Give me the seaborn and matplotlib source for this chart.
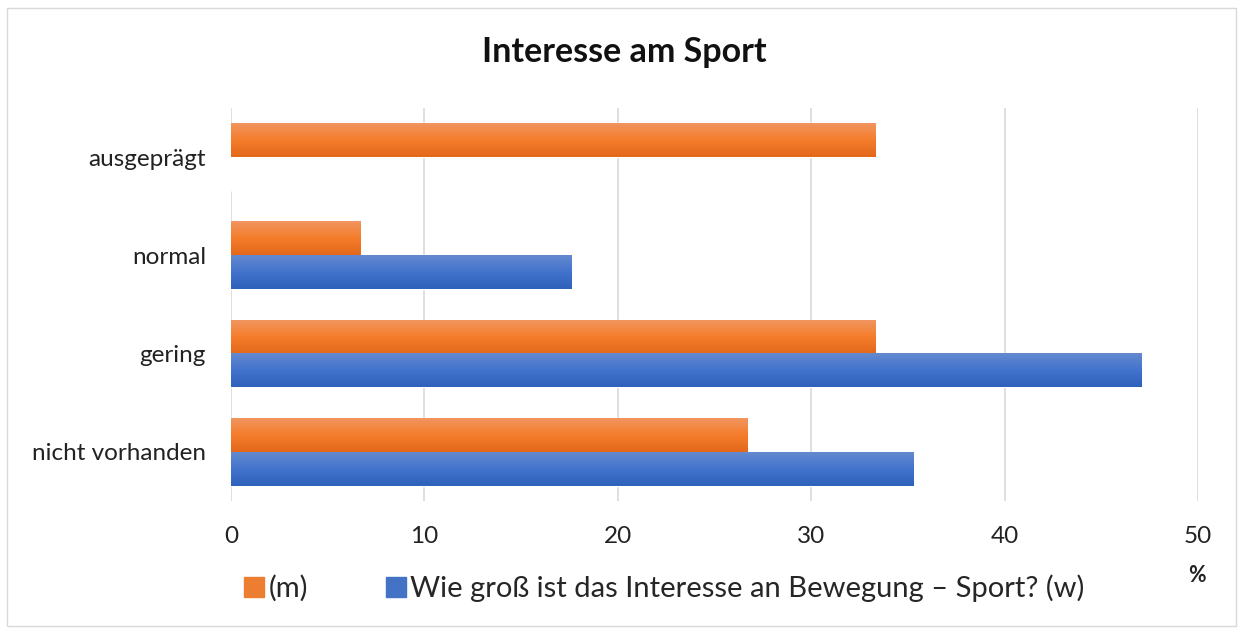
import numpy as np
import pandas as pd
import matplotlib
matplotlib.use("Agg")
import matplotlib.pyplot as plt
from matplotlib.colors import LinearSegmentedColormap
from matplotlib.lines import Line2D
from matplotlib.patches import Rectangle
import seaborn as sns

# data (percent)
categories = ["ausgeprägt", "normal", "gering", "nicht vorhanden"]
series_names = ["(m)", "Wie groß ist das Interesse an Bewegung – Sport? (w)"]
values_m = [33.3, 6.7, 33.3, 26.7]
values_w = [0.0, 17.6, 47.1, 35.3]
x_ticks = [0, 10, 20, 30, 40, 50]

df = pd.DataFrame({
    "Interesse": categories * 2,
    "Serie": [series_names[0]] * 4 + [series_names[1]] * 4,
    "Prozent": values_m + values_w,
})

sns.set_theme(style="white")
plt.rcParams["font.family"] = ["Lato", "DejaVu Sans"]

orange, blue = "#ED7D31", "#4472C4"
fig = plt.figure(figsize=(12.43, 6.34), dpi=100)
ax = fig.add_axes([0.1858, 0.2098, 0.778, 0.62])

sns.barplot(data=df, y="Interesse", x="Prozent", hue="Serie", order=categories,
            hue_order=series_names, palette=[orange, blue], orient="h",
            width=0.69, saturation=1, ax=ax, legend=False)

# Excel-like vertical gradient on the bars, one colour ramp per series
grads = [
    LinearSegmentedColormap.from_list("o", ["#F1955F", "#F47D2B", "#E4681A"]),
    LinearSegmentedColormap.from_list("b", ["#6489CF", "#4273CC", "#2E61BB"]),
]
ylim = ax.get_ylim()
grad = np.linspace(0, 1, 64).reshape(-1, 1)
for cont, cmap in zip(ax.containers, grads):
    for p in cont.patches:
        w = p.get_width()
        if w <= 0:
            continue
        x0, y0, h = p.get_x(), p.get_y(), p.get_height()
        ax.imshow(grad, cmap=cmap, aspect="auto", extent=(x0, x0 + w, y0 + h, y0),
                  zorder=p.get_zorder() + 0.1, interpolation="bilinear")
ax.set_xlim(0, 50)
ax.set_ylim(ylim)

ax.set_xticks(x_ticks)
ax.grid(axis="x", color="#D9D9D9", linewidth=1.2)
ax.set_axisbelow(True)
for s in ax.spines.values():
    s.set_visible(False)
ax.tick_params(axis="x", labelsize=17.5, pad=18, length=0, colors="#222222")
ax.tick_params(axis="y", labelsize=17.5, pad=18, length=0, colors="#222222")
ax.set_xlabel("")
ax.set_ylabel("")

fig.text(0.502, 0.918, "Interesse am Sport", ha="center", va="center",
         fontsize=24.5, fontweight="bold", color="#111111")
fig.text(0.963, 0.092, "%", ha="center", va="center", fontsize=15.5,
         fontweight="bold", color="#222222")

handles = [Line2D([], [], marker="s", linestyle="", markersize=15, color=c)
           for c in (orange, blue)]
fig.legend(handles, series_names, loc="center", bbox_to_anchor=(0.534, 0.072),
           ncol=2, frameon=False, fontsize=21, handletextpad=0.1,
           columnspacing=2.6, handlelength=0.8)

fig.add_artist(Rectangle((0.006, 0.012), 0.988, 0.976, transform=fig.transFigure,
                         fill=False, edgecolor="#D9D9D9", linewidth=1))

fig.savefig("out.png", dpi=100)
